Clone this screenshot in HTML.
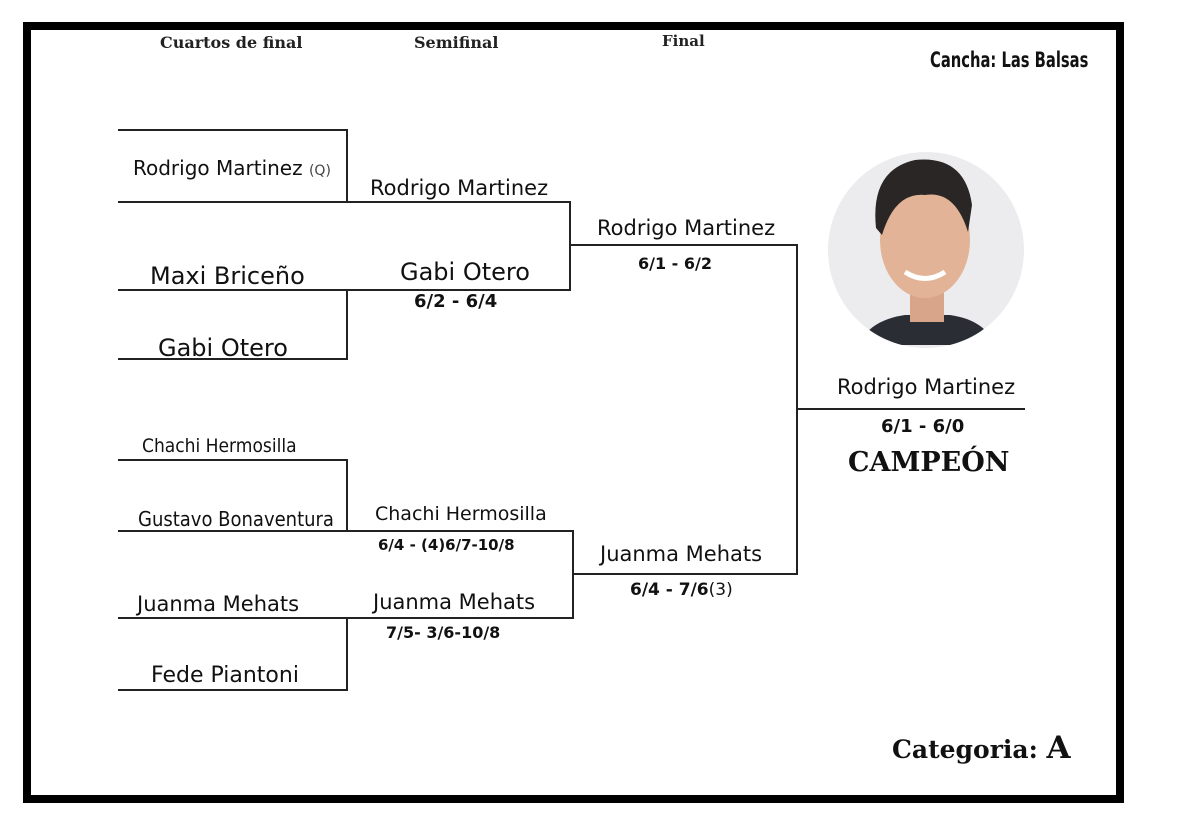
<!DOCTYPE html>
<html><head><meta charset="utf-8"><style>
body{margin:0;width:1200px;height:824px;background:#fff;overflow:hidden;position:relative;font-family:"DejaVu Sans","Liberation Sans",sans-serif;color:#111}
.t{position:absolute;white-space:nowrap;line-height:1}
.h{font-family:"DejaVu Serif","Liberation Serif",serif;font-weight:bold;color:#222}
.c{font-family:"DejaVu Sans Condensed","DejaVu Sans",sans-serif}
.s{font-weight:bold}
</style></head><body>
<div style="position:absolute;left:23px;top:22px;width:1085px;height:765px;border:8px solid #000"></div>
<svg width="1200" height="824" style="position:absolute;left:0;top:0" fill="none" stroke="#222" stroke-width="2">
<path d="M118 130H347V202M118 202H570V290H118M347 290V359H118"/>
<path d="M570 245H797V574H573M797 409H1025"/>
<path d="M118 460H347V531M118 531H573V618H118M347 618V690H118"/>
<defs><clipPath id="c"><circle cx="926" cy="250" r="98"/></clipPath></defs>
<circle cx="926" cy="250" r="98" fill="#ececee" stroke="none"/>
<g clip-path="url(#c)" stroke="none">
<path d="M858 345 Q870 320 905 315 L950 315 Q985 320 995 345 Z" fill="#2a2d33"/>
<rect x="910" y="290" width="34" height="32" fill="#d9a58a"/>
<ellipse cx="925" cy="240" rx="45" ry="58" fill="#e2b396"/>
<path d="M876 228 Q870 170 915 160 Q965 155 972 205 L968 232 Q955 190 925 195 Q895 192 882 235 Z" fill="#2b2626"/>
<path d="M905 272 Q925 285 945 272" stroke="#fff" stroke-width="5"/>
</g>
</svg>
<div class="t h" style="left:160px;top:35px;font-size:16px">Cuartos de final</div>
<div class="t h" style="left:414px;top:35px;font-size:16px">Semifinal</div>
<div class="t h" style="left:662px;top:34px;font-size:15px">Final</div>
<div class="t" style="left:930px;top:50px;font-family:'Liberation Sans Narrow','DejaVu Sans Condensed',sans-serif;font-weight:bold;font-size:21px;transform:scaleX(0.78);transform-origin:left">Cancha: Las Balsas</div>
<div class="t" style="left:133px;top:158px;font-size:20px">Rodrigo Martinez <span style="font-size:14px;color:#444">(Q)</span></div>
<div class="t" style="left:370px;top:178px;font-size:21px">Rodrigo Martinez</div>
<div class="t" style="left:150px;top:264px;font-size:24px">Maxi Briceño</div>
<div class="t" style="left:400px;top:260px;font-size:24px">Gabi Otero</div>
<div class="t s" style="left:414px;top:293px;font-size:18px">6/2 - 6/4</div>
<div class="t" style="left:158px;top:336px;font-size:24px">Gabi Otero</div>
<div class="t" style="left:597px;top:218px;font-size:21px">Rodrigo Martinez</div>
<div class="t s" style="left:638px;top:256px;font-size:16px">6/1 - 6/2</div>
<div class="t" style="left:837px;top:377px;font-size:21px">Rodrigo Martinez</div>
<div class="t s" style="left:881px;top:418px;font-size:18px">6/1 - 6/0</div>
<div class="t" style="left:848px;top:449px;font-family:'DejaVu Serif','Liberation Serif',serif;font-weight:bold;font-size:27px">CAMPEÓN</div>
<div class="t" style="left:142px;top:437px;font-size:19px;transform:scaleX(0.9);transform-origin:left">Chachi Hermosilla</div>
<div class="t c" style="left:138px;top:509px;font-size:20px">Gustavo Bonaventura</div>
<div class="t" style="left:375px;top:505px;font-size:19px">Chachi Hermosilla</div>
<div class="t s" style="left:378px;top:538px;font-size:15px">6/4 - (4)6/7-10/8</div>
<div class="t" style="left:600px;top:544px;font-size:21px">Juanma Mehats</div>
<div class="t s" style="left:630px;top:582px;font-size:17px">6/4 - 7/6<span style="font-weight:normal">(3)</span></div>
<div class="t" style="left:137px;top:594px;font-size:21px">Juanma Mehats</div>
<div class="t" style="left:373px;top:592px;font-size:21px">Juanma Mehats</div>
<div class="t s" style="left:386px;top:625px;font-size:16px">7/5- 3/6-10/8</div>
<div class="t" style="left:151px;top:665px;font-size:22px">Fede Piantoni</div>
<div class="t" style="left:892px;top:733px;font-family:'DejaVu Serif','Liberation Serif',serif;font-weight:bold;font-size:25px">Categoria: <span style="font-size:31px">A</span></div>
</body></html>
